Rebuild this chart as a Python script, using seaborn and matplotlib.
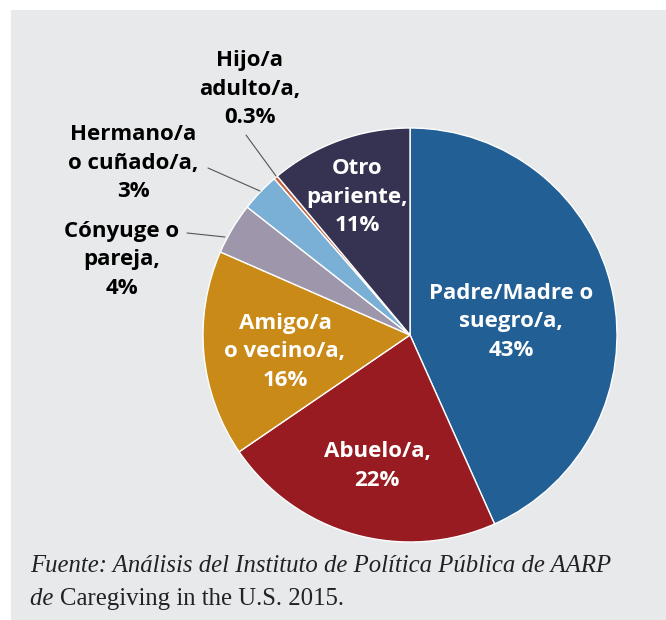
import matplotlib
matplotlib.use("Agg")
import matplotlib.pyplot as plt
from matplotlib.patches import Rectangle
import seaborn as sns

categories = ["Padre/Madre o\nsuegro/a,", "Abuelo/a,", "Amigo/a\no vecino/a,",
              "Cónyuge o\npareja,", "Hermano/a\no cuñado/a,", "Hijo/a\nadulto/a,",
              "Otro\npariente,"]
values = [43, 22, 16, 4, 3, 0.3, 11]
pct_labels = ["43%", "22%", "16%", "4%", "3%", "0.3%", "11%"]
colors = ["#215f95", "#971b20", "#c98a17", "#9e96ab", "#7aafd6", "#c2623f", "#363352"]

sns.set_style("white")
plt.rcParams["font.family"] = ["Open Sans", "DejaVu Sans"]

W, H = 666, 620
fig = plt.figure(figsize=(W / 100, H / 100), dpi=100)
fig.patch.set_facecolor("white")
fig.patches.append(Rectangle((11 / W, 0), 1 - 11 / W, 1 - 10 / H, transform=fig.transFigure,
                             facecolor="#e8e9eb", edgecolor="none", zorder=-10))

ax = fig.add_axes([0, 0, 1, 1])
ax.set_zorder(1)
ax.patch.set_alpha(0)

cx, cy, r = 410, H - 335, 207
wedges, _ = ax.pie(values, colors=colors, startangle=90, counterclock=False,
                   center=(cx, cy), radius=r, frame=True,
                   wedgeprops=dict(edgecolor="white", linewidth=1.0))
ax.set_xlim(0, W)
ax.set_ylim(0, H)
ax.set_aspect("equal")
ax.axis("off")

# label layout (pixel positions of label centres, text colour)
label_pos = [(511, 322), (377, 466), (285, 352), (122, 260), (133, 163), (250, 89), (357, 197)]
label_col = ["white", "white", "white", "black", "black", "black", "white"]
for name, pct, (lx, ly), c in zip(categories, pct_labels, label_pos, label_col):
    ax.text(lx, H - ly, f"{name}\n{pct}", ha="center", va="center", color=c,
            fontsize=16, fontweight="bold", linespacing=1.45)

# leader lines for small slices
leaders = [((187, 233), (225, 237)), ((208, 168), (260, 191)), ((246, 135), (276, 176))]
for (x0, y0), (x1, y1) in leaders:
    ax.plot([x0, x1], [H - y0, H - y1], color="#555555", lw=0.8)

# caption
fs = 17.8
fig.text(30 / W, 1 - 572 / H, "Fuente: Análisis del Instituto de Política Pública de AARP",
         family="Liberation Serif", style="italic", fontsize=fs, color="#222222",
         ha="left", va="baseline")
t1 = fig.text(30 / W, 1 - 605 / H, "de ", family="Liberation Serif", style="italic",
              fontsize=fs, color="#222222", ha="left", va="baseline")
fig.canvas.draw()
bb = t1.get_window_extent(renderer=fig.canvas.get_renderer())
fig.text(bb.x1 / W, 1 - 605 / H, "Caregiving in the U.S. 2015.", family="Liberation Serif",
         fontsize=fs, color="#222222", ha="left", va="baseline")

fig.savefig("out.png", dpi=100)
